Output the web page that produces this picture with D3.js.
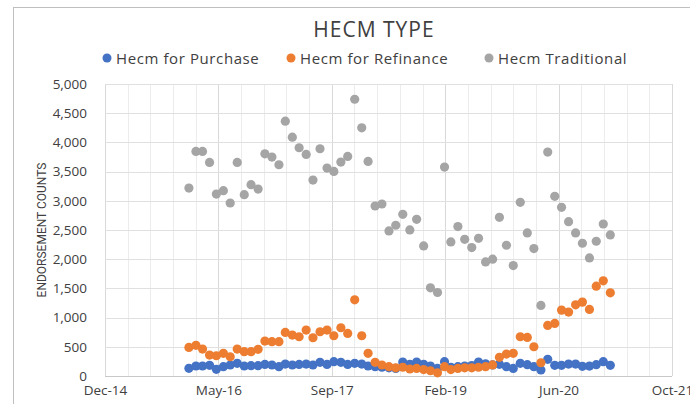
<!DOCTYPE html>
<html>
<head>
<meta charset="utf-8">
<script src="https://cdn.jsdelivr.net/npm/d3@7"></script>
<style>
  body { margin: 0; background: #fff; }
  svg { display: block; font-family: "Open Sans", "Noto Sans", sans-serif; }
</style>
</head>
<body>
<svg width="690" height="404"></svg>
<script>
"use strict";

// one point per month, Jan 2016 .. Feb 2021
const months = [
    "2016-01", "2016-02", "2016-03", "2016-04", "2016-05", "2016-06", "2016-07", "2016-08", "2016-09", "2016-10", "2016-11", "2016-12",
    "2017-01", "2017-02", "2017-03", "2017-04", "2017-05", "2017-06", "2017-07", "2017-08", "2017-09", "2017-10", "2017-11", "2017-12",
    "2018-01", "2018-02", "2018-03", "2018-04", "2018-05", "2018-06", "2018-07", "2018-08", "2018-09", "2018-10", "2018-11", "2018-12",
    "2019-01", "2019-02", "2019-03", "2019-04", "2019-05", "2019-06", "2019-07", "2019-08", "2019-09", "2019-10", "2019-11", "2019-12",
    "2020-01", "2020-02", "2020-03", "2020-04", "2020-05", "2020-06", "2020-07", "2020-08", "2020-09", "2020-10", "2020-11", "2020-12",
    "2021-01", "2021-02"
];

const purchase = [
    131, 171, 171, 182, 114, 160, 188, 217, 171, 176, 176, 199,
    188, 160, 205, 188, 199, 205, 188, 234, 199, 245, 234, 199,
    217, 205, 171, 160, 150, 140, 130, 240, 200, 240, 200, 170,
    130, 245, 150, 160, 170, 180, 240, 210, 190, 200, 160, 130,
    217, 194, 160, 103, 285, 182, 182, 205, 205, 165, 170, 194,
    245, 182
];

const refinance = [
    490, 525, 461, 359, 347, 388, 330, 461, 416, 416, 456, 598,
    587, 587, 746, 700, 672, 786, 655, 758, 786, 689, 826, 729,
    1304, 689, 388, 234, 188, 160, 140, 150, 120, 130, 110, 90,
    55, 160, 110, 130, 140, 140, 150, 160, 190, 320, 376, 388,
    672, 661, 501, 227, 866, 900, 1128, 1094, 1219, 1265, 1140, 1538,
    1629, 1424
];

const traditional = [
    3218, 3845, 3845, 3657, 3116, 3173, 2962, 3657, 3105, 3276, 3201, 3805,
    3748, 3617, 4364, 4090, 3908, 3794, 3355, 3891, 3560, 3503, 3663, 3760,
    4739, 4250, 3674, 2911, 2945, 2484, 2581, 2769, 2501, 2683, 2227, 1510,
    1430, 3577, 2296, 2558, 2341, 2199, 2358, 1954, 2000, 2717, 2239, 1891,
    2974, 2450, 2182, 1208, 3834, 3076, 2888, 2643, 2450, 2273, 2022, 2307,
    2603, 2415
];

const seriesNames = ["Hecm for Purchase", "Hecm for Refinance", "Hecm Traditional"];
const seriesColors = ["#4472C4", "#ED7D31", "#A5A5A5"];
const yTicks = [0, 500, 1000, 1500, 2000, 2500, 3000, 3500, 4000, 4500, 5000];

// x axis runs like an Excel serial axis: 500-day major steps, 100-day minor steps
const xStart = new Date(Date.UTC(2014, 11, 27));
const xEnd = new Date(Date.UTC(2021, 9, 31));
const majorDays = 500, minorDays = 100;

const svg = d3.select("svg");
const margin = {left: 105, right: 18, top: 84, bottom: 28};
const width = +svg.attr("width");
const height = +svg.attr("height");

const parseMonth = d3.utcParse("%Y-%m");
const dates = months.map(parseMonth);

const xScale = d3.scaleUtc()
    .domain([xStart, xEnd])
    .range([margin.left, width - margin.right]);

const yScale = d3.scaleLinear()
    .domain([0, 5000])
    .range([height - margin.bottom, margin.top]);

const dayMs = 24 * 3600 * 1000;
const totalDays = Math.round((xEnd - xStart) / dayMs);
const majorTicks = d3.range(0, totalDays + 1, majorDays).map(d => new Date(+xStart + d * dayMs));
const minorTicks = d3.range(0, totalDays + 1, minorDays).map(d => new Date(+xStart + d * dayMs));

// chart border
svg.append("rect")
    .attr("x", 13.5).attr("y", 7.5)
    .attr("width", 700).attr("height", 420)
    .attr("fill", "none")
    .attr("stroke", "#bfbfbf");

// grid
const grid = svg.append("g");
grid.selectAll(".minor")
    .data(minorTicks)
    .enter().append("line")
    .attr("class", "minor")
    .attr("x1", d => Math.round(xScale(d)) + 0.5)
    .attr("x2", d => Math.round(xScale(d)) + 0.5)
    .attr("y1", yScale(5000))
    .attr("y2", yScale(0))
    .attr("stroke", "#ececec");

grid.selectAll(".major")
    .data(majorTicks)
    .enter().append("line")
    .attr("class", "major")
    .attr("x1", d => Math.round(xScale(d)) + 0.5)
    .attr("x2", d => Math.round(xScale(d)) + 0.5)
    .attr("y1", yScale(5000))
    .attr("y2", yScale(0))
    .attr("stroke", "#d9d9d9");

grid.selectAll(".hgrid")
    .data(yTicks)
    .enter().append("line")
    .attr("class", "hgrid")
    .attr("x1", xScale.range()[0])
    .attr("x2", xScale.range()[1])
    .attr("y1", d => Math.round(yScale(d)) + 0.5)
    .attr("y2", d => Math.round(yScale(d)) + 0.5)
    .attr("stroke", d => d === 0 ? "#c8c8c8" : "#e0e0e0");

// axes (labels only, Excel style)
const yAxis = svg.append("g")
    .attr("transform", `translate(${margin.left - 15},0)`)
    .call(d3.axisLeft(yScale).tickValues(yTicks).tickFormat(d3.format(",")).tickSize(0));
yAxis.select(".domain").remove();
yAxis.selectAll("text")
    .attr("font-size", 13.5)
    .attr("fill", "#404040")
    .attr("font-family", "Open Sans, sans-serif");

const xAxis = svg.append("g")
    .attr("transform", `translate(0,${height - margin.bottom + 6})`)
    .call(d3.axisBottom(xScale).tickValues(majorTicks).tickFormat(d3.utcFormat("%b-%y")).tickSize(0));
xAxis.select(".domain").remove();
xAxis.selectAll("text")
    .attr("font-size", 13.5)
    .attr("fill", "#404040")
    .attr("font-family", "Open Sans, sans-serif");

svg.append("text")
    .attr("transform", `translate(46,${(yScale(0) + yScale(5000)) / 2}) rotate(-90)`)
    .attr("text-anchor", "middle")
    .attr("font-size", 12)
    .attr("fill", "#404040")
    .attr("font-family", "Liberation Sans Narrow, Roboto, sans-serif")
    .text("ENDORSEMENT COUNTS");

// title
svg.append("text")
    .attr("x", 374)
    .attr("y", 37)
    .attr("text-anchor", "middle")
    .attr("font-size", 21)
    .attr("letter-spacing", 1)
    .attr("fill", "#404040")
    .text("HECM TYPE");

// legend
const legendX = [107, 291, 489];
const legend = svg.selectAll(".legend")
    .data(seriesNames)
    .enter().append("g")
    .attr("class", "legend")
    .attr("transform", (d, i) => `translate(${legendX[i]},58)`);
legend.append("circle")
    .attr("r", 4.5)
    .attr("fill", (d, i) => seriesColors[i]);
legend.append("text")
    .attr("x", 9)
    .attr("y", 5.5)
    .attr("font-size", 15)
    .attr("letter-spacing", 0.6)
    .attr("fill", "#404040")
    .text(d => d);

// points
const allSeries = [purchase, refinance, traditional];
allSeries.forEach((values, i) => {
    svg.append("g")
        .selectAll("circle")
        .data(values)
        .enter().append("circle")
        .attr("cx", (d, j) => xScale(dates[j]))
        .attr("cy", d => yScale(d))
        .attr("r", 4.6)
        .attr("fill", seriesColors[i]);
});
</script>
</body>
</html>
